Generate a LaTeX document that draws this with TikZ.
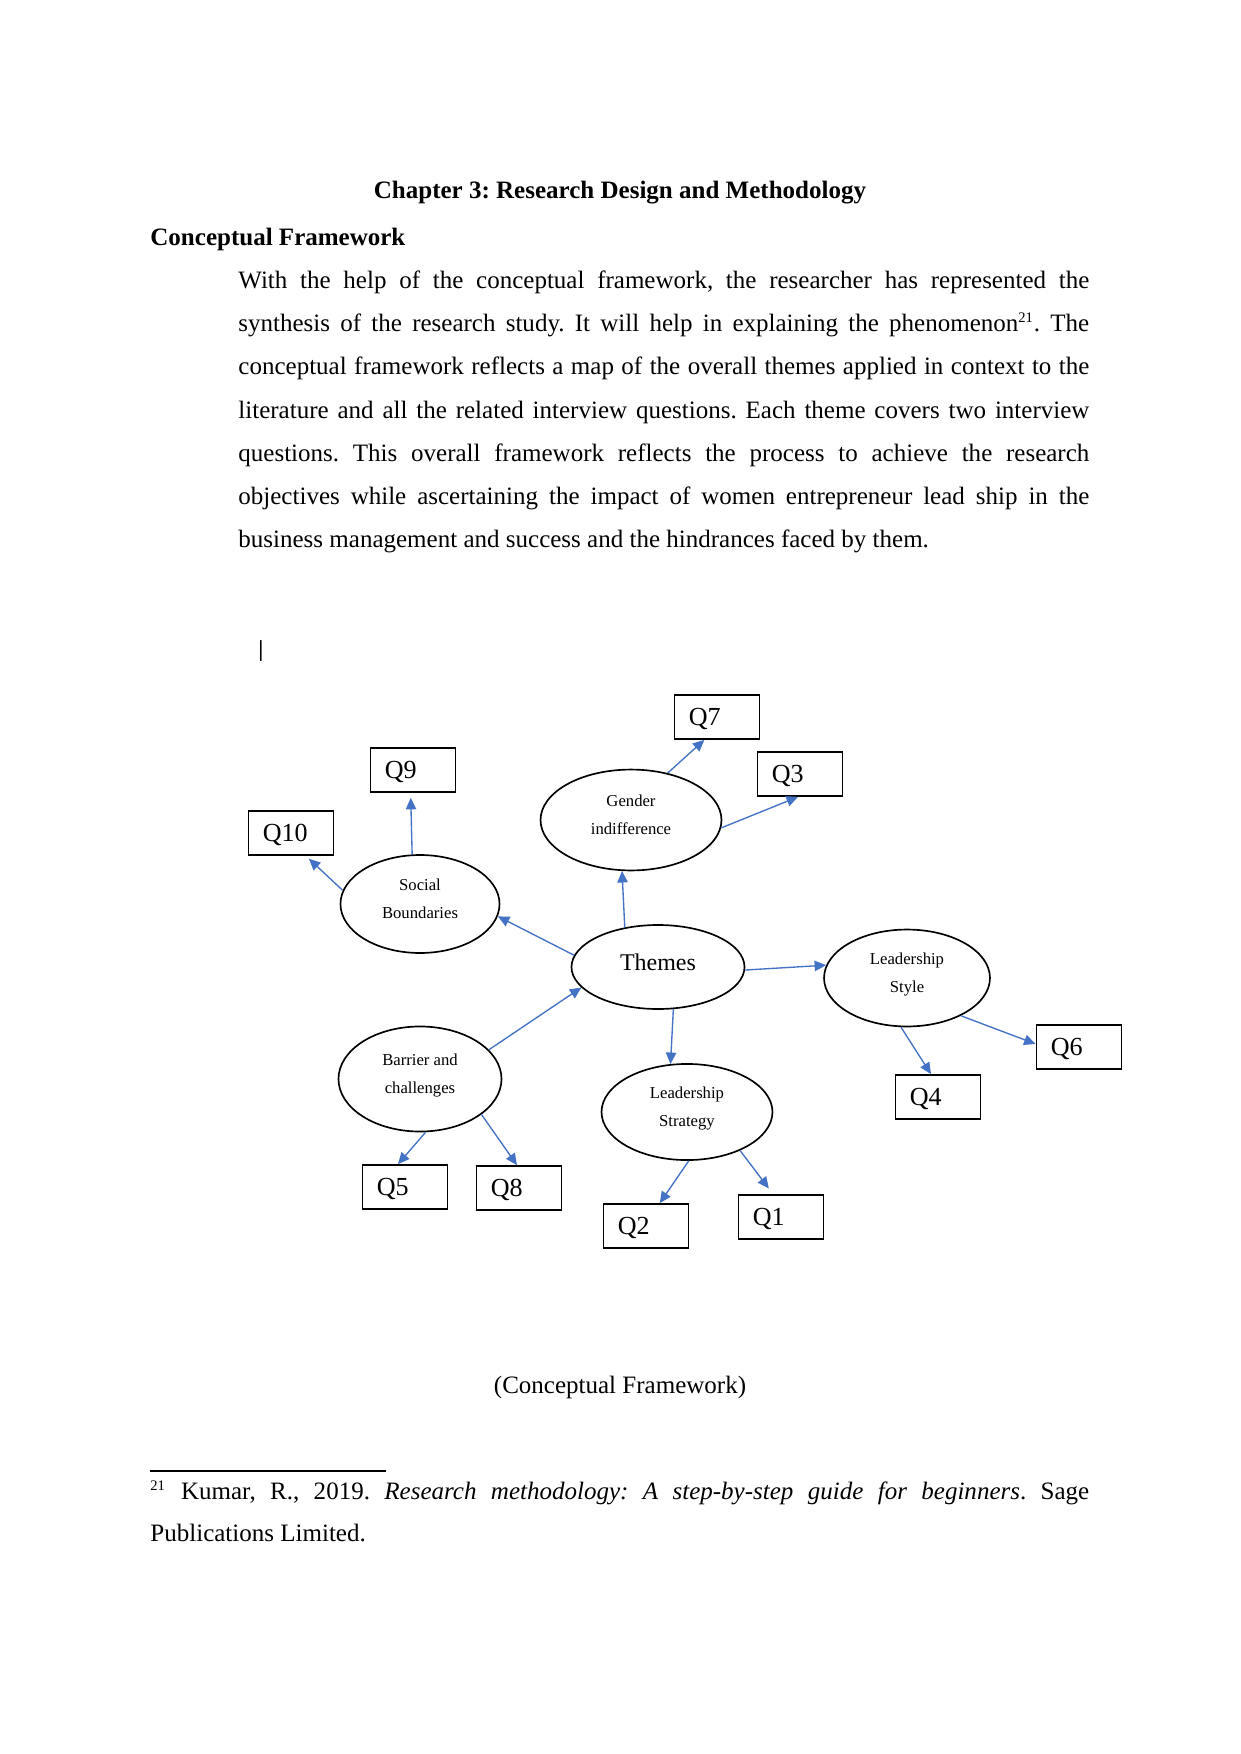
\documentclass[tikz,border=0pt]{standalone}
\usepackage{fontspec}
\setmainfont{Liberation Serif}
\usetikzlibrary{arrows.meta,shapes.geometric}
\definecolor{arrowblue}{RGB}{68,114,196}
\newcommand{\fnmark}[1]{\textsuperscript{\fontsize{7}{8}\selectfont #1}}

\begin{document}
\frenchspacing
\begin{tikzpicture}[
  x=0.4797pt, y=-0.4797pt,
  body/.style={inner sep=0pt, font=\fontsize{12}{20.7}\selectfont},
  theme/.style={draw, ellipse, line width=0.8pt, inner sep=0pt, align=center, text depth=5.5pt, font=\fontsize{8}{13.4}\selectfont},
  qbox/.style={draw, line width=0.85pt, minimum height=21.1pt, text width=27pt, text height=10.5pt, inner xsep=6.9pt, inner ysep=0pt, align=left, font=\fontsize{12.5}{14}\selectfont},
  arr/.style={-{Triangle[length=5.5pt,width=5pt]}, draw=arrowblue, line width=0.65pt}
]
\useasboundingbox[fill=white] (0,0) rectangle (1241,1754);

\node[body, font=\fontsize{12}{14}\selectfont\bfseries, anchor=base] (title) at (620,198) {Chapter 3: Research Design and Methodology};
\node[body, font=\fontsize{12}{14}\selectfont\bfseries, anchor=base west] (heading) at (150,245) {Conceptual Framework};
\node[body, text width=408.2pt, align=justify, anchor=north west] (para) at (238,258) {\strut With the help of the conceptual framework, the researcher has represented the\linebreak
synthesis of the research study. It will help in explaining the phenomenon\fnmark{21}. The\linebreak
conceptual framework reflects a map of the overall themes applied in context to the\linebreak
literature and all the related interview questions. Each theme covers two interview\linebreak
questions. This overall framework reflects the process to achieve the research\linebreak
objectives while ascertaining the impact of women entrepreneur lead ship in the\linebreak
business management and success and the hindrances faced by them.};
\node[body, font=\fontsize{11}{12}\selectfont\bfseries] (cursor) at (261,651) {|};

\node[theme, minimum width=83.0pt, minimum height=40.3pt, text depth=4.2pt, font=\fontsize{11.5}{13}\selectfont] (themes) at (658,967) {Themes};
\node[theme, minimum width=86.8pt, minimum height=48.4pt] (gender) at (631,820) {Gender\\indifference};
\node[theme, minimum width=76.3pt, minimum height=47.0pt] (social) at (420,904) {Social\\Boundaries};
\node[theme, minimum width=79.6pt, minimum height=46.5pt] (lstyle) at (907,978) {Leadership\\Style};
\node[theme, minimum width=78.2pt, minimum height=50.4pt] (barrier) at (420,1079) {Barrier and\\challenges};
\node[theme, minimum width=82.0pt, minimum height=46.1pt] (lstrategy) at (687,1112) {Leadership\\Strategy};

\node[qbox] (q7) at (717,717) {Q7};
\node[qbox] (q9) at (413,770) {Q9};
\node[qbox] (q10) at (291,833) {Q10};
\node[qbox] (q3) at (800,774) {Q3};
\node[qbox] (q6) at (1079,1047) {Q6};
\node[qbox] (q4) at (938,1097) {Q4};
\node[qbox] (q5) at (405,1187) {Q5};
\node[qbox] (q8) at (519,1188) {Q8};
\node[qbox] (q2) at (646,1226) {Q2};
\node[qbox] (q1) at (781,1217) {Q1};

\draw[arr, shorten >=2pt] (social.170) -- (q10.303);
\draw[arr, shorten >=2.4pt] (social.99) -- (q9.264);
\draw[arr] (themes.172) -- (social.-9);
\draw[arr] (themes.130) -- (gender.260);
\draw[arr] (gender.52) -- (q7.241);
\draw[arr] (gender.355) -- (q3.265);
\draw[arr] (themes.-2) -- (lstyle.171);
\draw[arr] (barrier.23) -- (themes.195);
\draw[arr] (themes.290) -- (lstrategy.109);
\draw[arr] (lstyle.325) -- (q6.176);
\draw[arr] (lstyle.263) -- (q4.107);
\draw[arr] (barrier.276) -- (q5.107);
\draw[arr] (barrier.330) -- (q8.95);
\draw[arr] (lstrategy.272) -- (q2.59);
\draw[arr, shorten >=3.4pt] (lstrategy.324) -- (q1.109);

\node[body, anchor=base] (caption) at (620,1393) {(Conceptual Framework)};
\draw[line width=0.6pt] (150,1471) -- (386,1471);
\node[body, font=\fontsize{12}{20.4}\selectfont, text width=450.4pt, align=justify, anchor=north west] (footnote) at (150,1469) {\strut\fnmark{21}\hspace{0.6em}Kumar, R., 2019.\ \textit{Research methodology: A step-by-step guide for beginners}. Sage\linebreak
Publications Limited.};
\end{tikzpicture}
\end{document}
